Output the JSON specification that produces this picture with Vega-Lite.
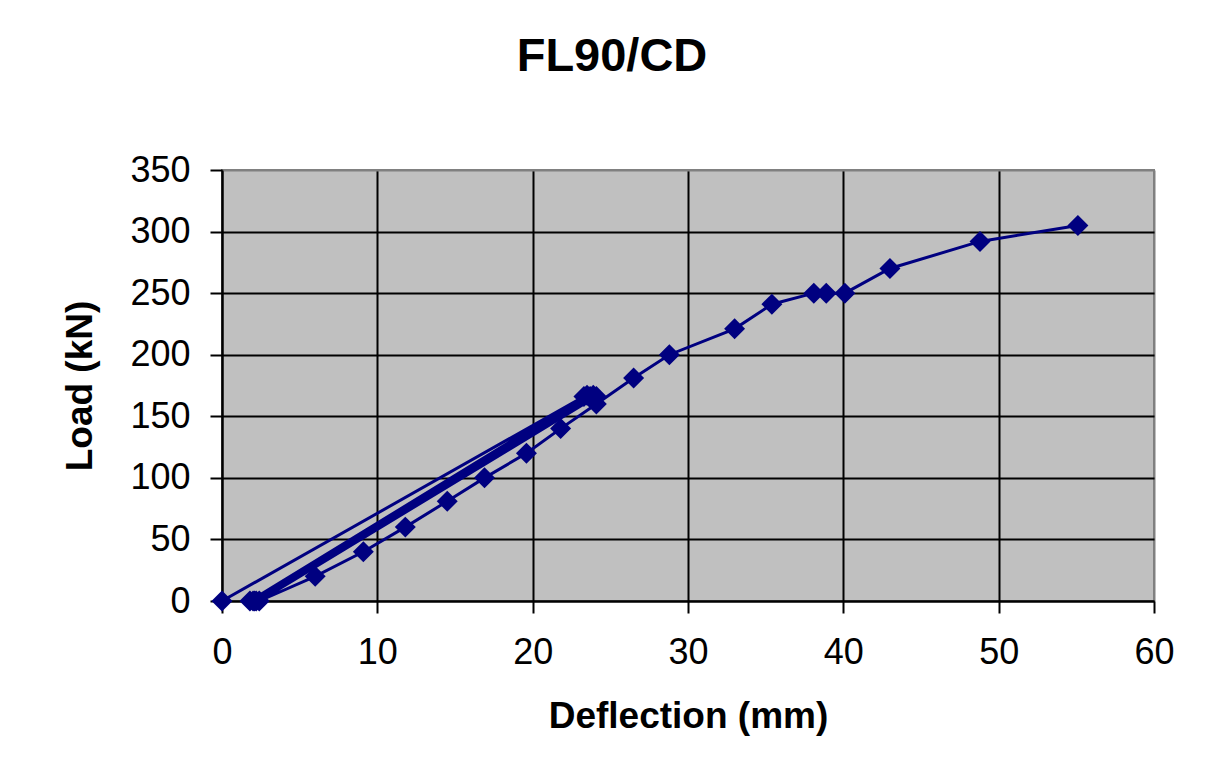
{
  "$schema": "https://vega.github.io/schema/vega-lite/v6.json",
  "autosize": "none",
  "width": 932,
  "height": 431,
  "padding": {"left": 222, "top": 170, "right": 55, "bottom": 173},
  "background": "white",
  "title": {"text": "FL90/CD", "font": "Liberation Sans", "fontSize": 47, "fontWeight": "bold", "color": "black", "baseline": "alphabetic", "offset": 34, "anchor": "middle", "frame": "bounds", "dx": -6},
  "config": {
    "view": {"fill": "#c0c0c0", "stroke": "#808080", "strokeWidth": 2},
    "axis": {
      "labelFont": "Liberation Sans", "labelFontSize": 36, "labelColor": "black", "labelFlush": false,
      "titleFont": "Liberation Sans", "titleFontSize": 37, "titleFontWeight": "bold", "titleColor": "black",
      "domainColor": "black", "domainWidth": 2, "tickColor": "black", "tickWidth": 2, "tickSize": 12,
      "gridWidth": 2
    }
  },
  "data": {"values": [
    {"i": 1, "d": 0, "load": 0},
    {"i": 2, "d": 23.3, "load": 166},
    {"i": 3, "d": 1.8, "load": 0},
    {"i": 4, "d": 23.5, "load": 167},
    {"i": 5, "d": 2.0, "load": 0},
    {"i": 6, "d": 23.7, "load": 166},
    {"i": 7, "d": 2.1, "load": 0},
    {"i": 8, "d": 23.9, "load": 167},
    {"i": 9, "d": 2.2, "load": 0},
    {"i": 10, "d": 24.1, "load": 166},
    {"i": 11, "d": 2.4, "load": 0},
    {"i": 12, "d": 6.0, "load": 20},
    {"i": 13, "d": 9.1, "load": 40},
    {"i": 14, "d": 11.8, "load": 60},
    {"i": 15, "d": 14.5, "load": 81},
    {"i": 16, "d": 16.9, "load": 100},
    {"i": 17, "d": 19.6, "load": 120},
    {"i": 18, "d": 21.8, "load": 140},
    {"i": 19, "d": 24.1, "load": 160},
    {"i": 20, "d": 26.5, "load": 181},
    {"i": 21, "d": 28.8, "load": 200},
    {"i": 22, "d": 33.0, "load": 221},
    {"i": 23, "d": 35.4, "load": 241},
    {"i": 24, "d": 38.1, "load": 250},
    {"i": 25, "d": 38.9, "load": 250},
    {"i": 26, "d": 40.1, "load": 250},
    {"i": 27, "d": 43.0, "load": 270},
    {"i": 28, "d": 48.8, "load": 292},
    {"i": 29, "d": 55.1, "load": 305}
  ]},
  "mark": {"type": "line", "color": "#000080", "strokeWidth": 3, "point": {"shape": "diamond", "size": 440, "filled": true, "color": "#000080", "opacity": 1}},
  "encoding": {
    "x": {"field": "d", "type": "quantitative", "scale": {"domain": [0, 60], "nice": false},
      "axis": {"title": "Deflection (mm)", "values": [0, 10, 20, 30, 40, 50, 60], "labelPadding": 22, "titlePadding": 28,
        "gridColor": {"condition": {"test": "datum.value === 60", "value": "#808080"}, "value": "black"}}},
    "y": {"field": "load", "type": "quantitative", "scale": {"domain": [0, 350], "nice": false},
      "axis": {"title": "Load (kN)", "values": [0, 50, 100, 150, 200, 250, 300, 350], "labelPadding": 20, "titlePadding": 30,
        "gridColor": {"condition": {"test": "datum.value === 350", "value": "#808080"}, "value": "black"}}},
    "order": {"field": "i", "type": "quantitative"}
  }
}
